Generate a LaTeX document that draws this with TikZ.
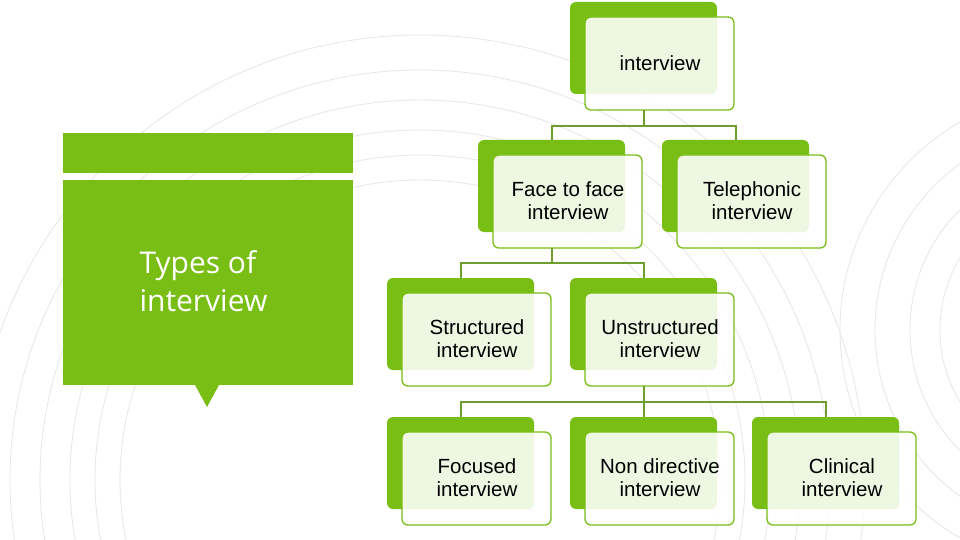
\documentclass[tikz,border=0pt]{standalone}
\usepackage{fontspec}
\setmainfont{Liberation Sans}
\newfontfamily\titlefont{Open Sans}
\definecolor{grn}{HTML}{78BE14}
\definecolor{lnk}{HTML}{6E9E2E}
\definecolor{arcg}{HTML}{E6E6E6}
\tikzset{
  backbox/.style={fill=grn,rounded corners=6pt},
  frontbox/.style={fill=white,fill opacity=0.88,draw=grn,line width=1.3pt,rounded corners=6pt,draw opacity=1},
  lbl/.style={font=\fontsize{20.5}{23}\selectfont,align=center,text=black},
  conn/.style={draw=lnk,line width=1.2pt}
}
\begin{document}
\begin{tikzpicture}[x=1pt,y=-1pt]
\useasboundingbox (0,0) rectangle (960,540);
\fill[white] (0,0) rectangle (960,540);
\begin{scope}
\clip (0,0) rectangle (960,540);
\foreach \r in {300,325,350,380,410,445}
  \draw[arcg,line width=0.8pt] (420,480) circle (\r);
\foreach \r in {140,170,205,240}
  \draw[arcg,line width=0.8pt] (1080,330) circle (\r);
\end{scope}
% left panel
\fill[grn] (63,133) rectangle (353,173);
\fill[grn] (63,180) rectangle (353,385);
\fill[grn] (195,385) -- (219,385) -- (207,407) -- cycle;
\node[font=\titlefont\fontsize{30}{38}\selectfont,text=white,align=left,anchor=west] (title) at (136,281) {Types of\\interview};
\newcommand\mybox[4]{%
  \fill[backbox] (#2,#3) rectangle ++(147,92);
  \path[frontbox] (#2+15,#3+15) rectangle ++(149,93);
  \coordinate (#1top) at (#2+74,#3);
  \coordinate (#1bot) at (#2+74,#3+108);
  \node[lbl] (#1) at (#2+90,#3+61) {#4};}
\mybox{iv}{570}{2}{interview}
\mybox{ff}{478}{140}{Face to face\\interview}
\mybox{tel}{662}{140}{Telephonic\\interview}
\mybox{st}{387}{278}{Structured\\interview}
\mybox{un}{570}{278}{Unstructured\\interview}
\mybox{fo}{387}{417}{Focused\\interview}
\mybox{nd}{570}{417}{Non directive\\interview}
\mybox{cl}{752}{417}{Clinical\\interview}
% connectors
\draw[conn] (ivbot) -- ++(0,16) -| (fftop);
\draw[conn] (ivbot) ++(0,16) -| (teltop);
\draw[conn] (ffbot) -- ++(0,15) -| (sttop);
\draw[conn] (ffbot) ++(0,15) -| (untop);
\draw[conn] (unbot) -- ++(0,16) -| (fotop);
\draw[conn] (unbot) ++(0,16) -| (cltop);
\draw[conn] (unbot) -- (ndtop);
\end{tikzpicture}
\end{document}
